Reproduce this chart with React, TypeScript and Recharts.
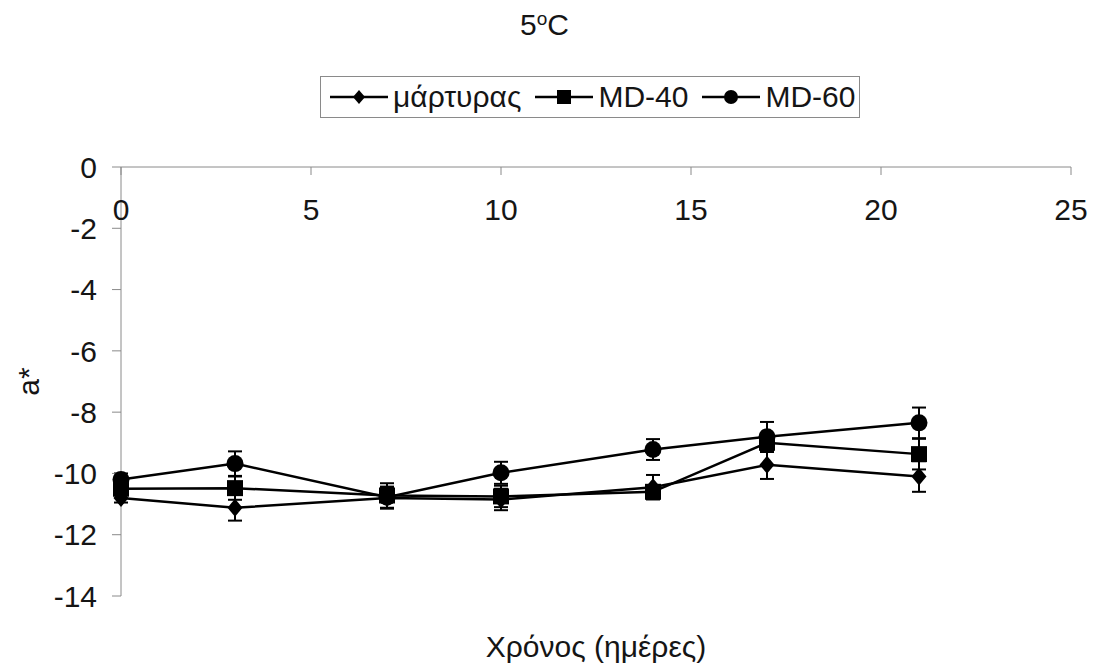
import React from 'react'
import { LineChart, Line, XAxis, YAxis, ErrorBar, Legend } from 'recharts'

const days = [0, 3, 7, 10, 14, 17, 21]
const martyras = [-10.8, -11.12, -10.8, -10.85, -10.45, -9.72, -10.1]
const martyrasErr = [0.15, 0.42, 0.35, 0.35, 0.4, 0.46, 0.5]
const md40 = [-10.5, -10.48, -10.72, -10.75, -10.6, -9.0, -9.37]
const md40Err = [0.2, 0.38, 0.4, 0.35, 0.2, 0.3, 0.5]
const md60 = [-10.2, -9.68, -10.78, -9.98, -9.22, -8.8, -8.35]
const md60Err = [0.2, 0.4, 0.35, 0.36, 0.34, 0.48, 0.5]

const xTicks = [0, 5, 10, 15, 20, 25]
const yTicks = [-14, -12, -10, -8, -6, -4, -2, 0]

const data = days.map((d, i) => ({
  day: d,
  m: martyras[i],
  mErr: martyrasErr[i],
  md40: md40[i],
  md40Err: md40Err[i],
  md60: md60[i],
  md60Err: md60Err[i],
}))

const FONT = '"Liberation Sans", Arial, sans-serif'
const AXIS = '#8a8a8a'
const TXT = '#151515'

const diamondDot = (props: any) => {
  const { cx, cy, index } = props
  if (cx == null || cy == null) return <g key={`d${index}`} />
  return <path key={`d${index}`} d={`M${cx},${cy - 9} L${cx + 7.5},${cy} L${cx},${cy + 9} L${cx - 7.5},${cy} Z`} fill="#000" />
}

const squareDot = (props: any) => {
  const { cx, cy, index } = props
  if (cx == null || cy == null) return <g key={`s${index}`} />
  return <rect key={`s${index}`} x={cx - 8} y={cy - 8} width={16} height={16} fill="#000" />
}

const circleDot = (props: any) => {
  const { cx, cy, index } = props
  if (cx == null || cy == null) return <g key={`c${index}`} />
  return <circle key={`c${index}`} cx={cx} cy={cy} r={8.5} fill="#000" />
}

const legendItems = [
  { label: 'μάρτυρας', shape: 'diamond' },
  { label: 'MD-40', shape: 'square' },
  { label: 'MD-60', shape: 'circle' },
]

function LegendIcon({ shape }: { shape: string }) {
  return (
    <svg width={58} height={20} style={{ display: 'block' }}>
      <line x1={0} y1={10} x2={58} y2={10} stroke="#000" strokeWidth={2.5} />
      {shape === 'diamond' && <path d="M29,3 L35,10 L29,17 L23,10 Z" fill="#000" />}
      {shape === 'square' && <rect x={22} y={3} width={14} height={14} fill="#000" />}
      {shape === 'circle' && <circle cx={29} cy={10} r={7} fill="#000" />}
    </svg>
  )
}

function renderLegend() {
  return (
    <div
      style={{
        display: 'flex',
        alignItems: 'center',
        border: '1.5px solid #8a8a8a',
        padding: '3px 4px 3px 9px',
        fontFamily: FONT,
        fontSize: 30,
        color: TXT,
        background: '#fff',
      }}
    >
      {legendItems.map((it, i) => (
        <div key={it.label} style={{ display: 'flex', alignItems: 'center', marginLeft: i === 0 ? 0 : 14 }}>
          <LegendIcon shape={it.shape} />
          <span style={{ marginLeft: 5 }}>{it.label}</span>
        </div>
      ))}
    </div>
  )
}

export default function App() {
  return (
    <div style={{ position: 'absolute', left: 0, top: 0, width: 1093, height: 667, background: '#fff', fontFamily: FONT }}>
      <div style={{ position: 'absolute', left: 0, width: 1093, top: 8, textAlign: 'center', fontSize: 30, color: TXT }}>
        <span style={{ position: 'relative', left: -2 }}>
          5<span style={{ fontSize: 19, position: 'relative', top: -10 }}>o</span>C
        </span>
      </div>
      <LineChart width={1093} height={667} data={data} margin={{ top: 167, right: 22, bottom: 0, left: 0 }}>
        <XAxis
          xAxisId="top"
          dataKey="day"
          type="number"
          domain={[0, 25]}
          ticks={xTicks}
          orientation="top"
          mirror
          stroke={AXIS}
          tickSize={8}
          tickMargin={24}
          tick={{ fill: TXT, fontSize: 30, fontFamily: FONT }}
        />
        <XAxis
          xAxisId="bottom"
          dataKey="day"
          type="number"
          domain={[0, 25]}
          orientation="bottom"
          height={71}
          tick={false}
          axisLine={false}
          tickLine={false}
          label={{ value: 'Χρόνος (ημέρες)', position: 'insideBottom', offset: 10, fill: TXT, fontSize: 30, fontFamily: FONT }}
        />
        <YAxis
          type="number"
          domain={[-14, 0]}
          ticks={yTicks}
          width={121}
          stroke={AXIS}
          tickSize={9}
          tickMargin={15}
          tick={{ fill: TXT, fontSize: 30, fontFamily: FONT }}
          label={{
            content: (p: any) => {
              const vb = p.viewBox || {}
              const cy = (vb.y || 0) + (vb.height || 0) / 2
              return (
                <text x={28} y={cy} transform={`rotate(-90, 28, ${cy})`} textAnchor="middle" dominantBaseline="central" fill={TXT} fontSize={30} fontFamily={FONT}>
                  a*
                </text>
              )
            },
          }}
        />
        <Legend verticalAlign="middle" align="center" content={renderLegend} wrapperStyle={{ top: 76, left: 320, width: 'auto' }} />
        <Line xAxisId="top" dataKey="m" name="μάρτυρας" stroke="#000" strokeWidth={2.5} dot={diamondDot} isAnimationActive={false} legendType="diamond">
          <ErrorBar dataKey="mErr" width={7} stroke="#000" strokeWidth={2} direction="y" />
        </Line>
        <Line xAxisId="top" dataKey="md40" name="MD-40" stroke="#000" strokeWidth={2.5} dot={squareDot} isAnimationActive={false} legendType="square">
          <ErrorBar dataKey="md40Err" width={7} stroke="#000" strokeWidth={2} direction="y" />
        </Line>
        <Line xAxisId="top" dataKey="md60" name="MD-60" stroke="#000" strokeWidth={2.5} dot={circleDot} isAnimationActive={false} legendType="circle">
          <ErrorBar dataKey="md60Err" width={7} stroke="#000" strokeWidth={2} direction="y" />
        </Line>
      </LineChart>
    </div>
  )
}
